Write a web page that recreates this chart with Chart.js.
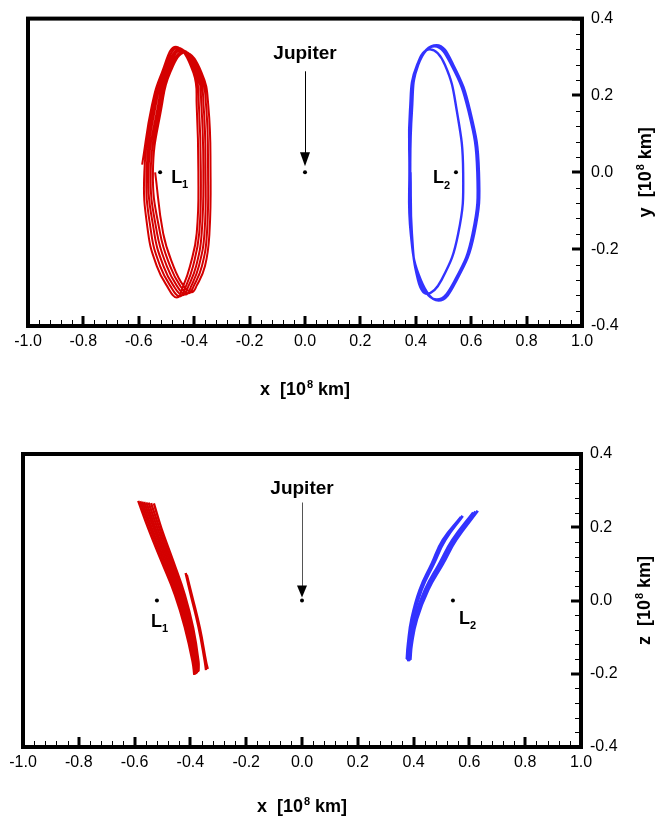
<!DOCTYPE html>
<html>
<head>
<meta charset="utf-8">
<script src="https://cdn.jsdelivr.net/npm/chart.js@4.4.1/dist/chart.umd.min.js"></script>
<style>
  html, body { margin: 0; padding: 0; background: #fff; }
  #wrap { position: relative; width: 657px; height: 824px; }
  canvas { position: absolute; left: 0; }
  #xy { top: 0; }
  #xz { top: 412px; }
</style>
</head>
<body>
<div id="wrap">
  <canvas id="xy" width="657" height="412"></canvas>
  <canvas id="xz" width="657" height="412"></canvas>
</div>
<script>
const FONT = '"Liberation Sans", Arial, Helvetica, sans-serif';

// tick labels
const xTicks = [-1.0, -0.8, -0.6, -0.4, -0.2, 0.0, 0.2, 0.4, 0.6, 0.8, 1.0];
const vTicks = [-0.4, -0.2, 0.0, 0.2, 0.4];

// libration points + Jupiter (x position, on the y=0 / z=0 line)
const markXY = [-0.523, 0.545, 0.0];
const markXZ = [-0.520, 0.541, 0.0];
const markNames = ["L1", "L2", "Jupiter"];

// L1 orbit (red), xy plane, six revolutions drifting to the right
const l1X = [
  -0.588, -0.553, -0.517, -0.466, -0.403, -0.391, -0.385, -0.391, -0.415, -0.439, -0.463, -0.499, -0.535, -0.566,
  -0.580, -0.546, -0.511, -0.459, -0.397, -0.383, -0.376, -0.382, -0.404, -0.429, -0.452, -0.487, -0.523, -0.555,
  -0.572, -0.539, -0.505, -0.452, -0.391, -0.374, -0.367, -0.373, -0.393, -0.420, -0.441, -0.475, -0.511, -0.544,
  -0.565, -0.531, -0.499, -0.446, -0.385, -0.366, -0.359, -0.363, -0.383, -0.410, -0.431, -0.463, -0.499, -0.534,
  -0.557, -0.524, -0.493, -0.439, -0.379, -0.357, -0.350, -0.354, -0.372, -0.401, -0.420, -0.451, -0.487, -0.523,
  -0.549, -0.517, -0.487, -0.432, -0.373, -0.349, -0.341, -0.345, -0.361, -0.391, -0.409, -0.439, -0.475, -0.512,
  -0.541
];
const l1Y = [
  0.020, 0.173, 0.259, 0.327, 0.259, 0.173, 0.000, -0.159, -0.244, -0.295, -0.326, -0.295, -0.244, -0.159,
  0.000, 0.173, 0.259, 0.324, 0.259, 0.173, 0.000, -0.159, -0.244, -0.295, -0.323, -0.295, -0.244, -0.159,
  0.000, 0.173, 0.259, 0.321, 0.259, 0.173, 0.000, -0.159, -0.244, -0.295, -0.320, -0.295, -0.244, -0.159,
  0.000, 0.173, 0.259, 0.318, 0.259, 0.173, 0.000, -0.159, -0.244, -0.295, -0.318, -0.295, -0.244, -0.159,
  0.000, 0.173, 0.259, 0.315, 0.259, 0.173, 0.000, -0.159, -0.244, -0.295, -0.315, -0.295, -0.244, -0.159,
  0.000, 0.173, 0.259, 0.312, 0.259, 0.173, 0.000, -0.159, -0.244, -0.295, -0.312, -0.295, -0.244, -0.159,
  0.000
];

// L2 orbit (blue), xy plane
const l2X = [
  0.377, 0.379, 0.405, 0.475, 0.535, 0.596, 0.628, 0.611, 0.548, 0.482, 0.418, 0.382,
  0.377, 0.383, 0.409, 0.468, 0.528, 0.590, 0.622, 0.605, 0.542, 0.476, 0.414, 0.385,
  0.380, 0.386, 0.406, 0.451, 0.505, 0.548, 0.571, 0.553, 0.493, 0.440, 0.408, 0.386,
  0.381
];
const l2Y = [
  0.000, 0.160, 0.280, 0.331, 0.280, 0.160, 0.000, -0.160, -0.280, -0.334, -0.280, -0.160,
  0.000, 0.160, 0.280, 0.328, 0.280, 0.160, 0.000, -0.160, -0.280, -0.331, -0.280, -0.160,
  0.000, 0.160, 0.280, 0.320, 0.280, 0.160, 0.000, -0.160, -0.280, -0.316, -0.280, -0.160,
  0.000
];

// xz plane: each orbit is a thin band, drawn as strands
const l1StrandX = [
  [-0.587, -0.551, -0.503, -0.455, -0.419, -0.392, -0.386],
  [-0.580, -0.544, -0.497, -0.450, -0.414, -0.389, -0.383],
  [-0.573, -0.538, -0.491, -0.445, -0.410, -0.386, -0.381],
  [-0.566, -0.531, -0.485, -0.440, -0.406, -0.383, -0.379],
  [-0.558, -0.525, -0.479, -0.435, -0.402, -0.380, -0.377],
  [-0.550, -0.518, -0.473, -0.430, -0.398, -0.377, -0.375],
  [-0.541, -0.511, -0.467, -0.425, -0.394, -0.374, -0.373],
  [-0.531, -0.504, -0.461, -0.420, -0.390, -0.371, -0.371],
  [-0.413, -0.395, -0.366, -0.344, -0.338],
  [-0.417, -0.400, -0.371, -0.349, -0.344]
];
const l1StrandZ = [
  [0.272, 0.197, 0.106, 0.015, -0.076, -0.167, -0.203],
  [0.271, 0.197, 0.106, 0.015, -0.076, -0.167, -0.202],
  [0.270, 0.197, 0.106, 0.015, -0.076, -0.167, -0.201],
  [0.269, 0.197, 0.106, 0.015, -0.076, -0.167, -0.200],
  [0.268, 0.197, 0.106, 0.015, -0.076, -0.167, -0.198],
  [0.267, 0.197, 0.106, 0.015, -0.076, -0.167, -0.196],
  [0.266, 0.197, 0.106, 0.015, -0.076, -0.167, -0.195],
  [0.265, 0.197, 0.106, 0.015, -0.076, -0.167, -0.193],
  [0.070, 0.015, -0.076, -0.167, -0.187],
  [0.075, 0.020, -0.072, -0.163, -0.190]
];
const l2StrandX = [
  [0.630, 0.552, 0.505, 0.452, 0.412, 0.393, 0.388],
  [0.622, 0.545, 0.498, 0.446, 0.407, 0.389, 0.384],
  [0.614, 0.539, 0.492, 0.441, 0.403, 0.386, 0.381],
  [0.576, 0.513, 0.472, 0.428, 0.397, 0.383, 0.378],
  [0.570, 0.505, 0.465, 0.422, 0.393, 0.380, 0.376]
];
const l2StrandZ = [
  [0.245, 0.165, 0.100, 0.029, -0.050, -0.120, -0.162],
  [0.243, 0.165, 0.100, 0.029, -0.050, -0.120, -0.165],
  [0.240, 0.165, 0.100, 0.029, -0.050, -0.120, -0.166],
  [0.231, 0.165, 0.100, 0.029, -0.050, -0.120, -0.162],
  [0.228, 0.165, 0.100, 0.029, -0.050, -0.120, -0.160]
];

const RED = "#d40000";
const BLUE = "#3333ff";

// per-panel layout bits, keyed by canvas id
const panel = {
  xy: { v: "y", padLeft: 28, padTop: 13, xHeight: 86, yWidth: 75, xTitleDy: 69, yTitleX: 651,
        L1: [11, 10.5, 15.5], L2: [-23, 10.5, 16.5], jup: [-113, -101, -19, -6] },
  xz: { v: "z", padLeft: 23, padTop: 42, xHeight: 77, yWidth: 76, xTitleDy: 65, yTitleX: 650,
        L1: [-6, 26, 31], L2: [6, 23.5, 28], jup: [-107, -98, -14, -3] }
};

function fmt(v) {
  if (Math.abs(v) < 1e-9) return "0.0";
  return v.toFixed(1);
}

// "x  [10^8 km]" with a raised 8, centred on cx
function unitTitle(ctx, letter, cx, base) {
  const a = letter + "  [10", b = "8", c = " km]";
  ctx.font = "bold 18px " + FONT;
  const wa = ctx.measureText(a).width, wc = ctx.measureText(c).width;
  ctx.font = "bold 11px " + FONT;
  const wb = ctx.measureText(b).width + 1;
  let x = cx - (wa + wb + wc) / 2;
  ctx.textAlign = "left";
  ctx.textBaseline = "alphabetic";
  ctx.font = "bold 18px " + FONT;
  ctx.fillText(a, x, base);
  ctx.font = "bold 11px " + FONT;
  ctx.fillText(b, x + wa + 1, base - 7);
  ctx.font = "bold 18px " + FONT;
  ctx.fillText(c, x + wa + wb, base);
}

function pointLabel(ctx, main, small, x, y, ySmall) {
  ctx.textAlign = "left";
  ctx.textBaseline = "alphabetic";
  ctx.font = "bold 18px " + FONT;
  ctx.fillText(main, x, y);
  const w = ctx.measureText(main).width;
  ctx.font = "bold 11px " + FONT;
  ctx.fillText(small, x + w, ySmall);
}

const frame = {
  id: "frame",
  afterDraw(chart) {
    const p = panel[chart.canvas.id];
    const ctx = chart.ctx;
    const a = chart.chartArea;
    const xs = chart.scales.x, ys = chart.scales.y;
    ctx.save();
    ctx.strokeStyle = "#000";
    ctx.fillStyle = "#000";

    // inward ticks, bottom and right only
    for (let i = 0; i <= 50; i++) {
      const major = i % 5 === 0;
      const px = Math.round(xs.getPixelForValue(-1 + i * 0.04));
      ctx.lineWidth = major ? 3 : 1;
      ctx.beginPath();
      ctx.moveTo(px + (major ? 0 : 0.5), a.bottom);
      ctx.lineTo(px + (major ? 0 : 0.5), a.bottom - (major ? 10 : 6));
      ctx.stroke();
    }
    for (let i = 0; i <= 20; i++) {
      const major = i % 5 === 0;
      const py = Math.round(ys.getPixelForValue(-0.4 + i * 0.04));
      ctx.lineWidth = major ? 3 : 1;
      ctx.beginPath();
      ctx.moveTo(a.right, py + (major ? 0 : 0.5));
      ctx.lineTo(a.right - (major ? 10 : 6), py + (major ? 0 : 0.5));
      ctx.stroke();
    }

    ctx.lineWidth = 4;
    ctx.strokeRect(a.left, a.top, a.right - a.left, a.bottom - a.top);

    // axis titles
    unitTitle(ctx, "x", (a.left + a.right) / 2, a.bottom + p.xTitleDy);
    ctx.save();
    ctx.translate(p.yTitleX, (a.top + a.bottom) / 2);
    ctx.rotate(-Math.PI / 2);
    unitTitle(ctx, p.v, 0, 0);
    ctx.restore();

    // point labels, placed off the marker pixels
    const pts = chart.getDatasetMeta(0).data;
    const l1 = pts[0], l2 = pts[1], jp = pts[2];
    pointLabel(ctx, "L", "1", l1.x + p.L1[0], l1.y + p.L1[1], l1.y + p.L1[2]);
    pointLabel(ctx, "L", "2", l2.x + p.L2[0], l2.y + p.L2[1], l2.y + p.L2[2]);

    ctx.textAlign = "center";
    ctx.font = "bold 19px " + FONT;
    ctx.fillText(markNames[2], jp.x, jp.y + p.jup[0]);
    ctx.lineWidth = 1;
    ctx.strokeStyle = p.v === "y" ? "#000" : "#555";
    ctx.beginPath();
    ctx.moveTo(Math.round(jp.x) + 0.5, jp.y + p.jup[1]);
    ctx.lineTo(Math.round(jp.x) + 0.5, jp.y + p.jup[2]);
    ctx.stroke();
    ctx.beginPath();
    ctx.moveTo(jp.x - 5, jp.y + p.jup[2] - 1);
    ctx.lineTo(jp.x + 5, jp.y + p.jup[2] - 1);
    ctx.lineTo(jp.x, jp.y + p.jup[3]);
    ctx.closePath();
    ctx.fill();
    ctx.restore();
  }
};

function pairs(xs, ys) {
  return xs.map((x, i) => ({ x: x, y: ys[i] }));
}

function line(data, color, width) {
  return {
    data: data,
    showLine: true,
    borderColor: color,
    borderWidth: width,
    pointRadius: 0,
    tension: 0.45
  };
}

function build(id, datasets, marks) {
  const p = panel[id];
  const markers = {
    data: marks.map(x => ({ x: x, y: 0 })),
    pointRadius: 2,
    pointBackgroundColor: "#000",
    pointBorderWidth: 0,
    showLine: false
  };
  return new Chart(document.getElementById(id), {
    type: "scatter",
    data: { datasets: [markers].concat(datasets) },
    options: {
      responsive: false,
      animation: false,
      devicePixelRatio: 1,
      layout: { padding: { left: p.padLeft, top: p.padTop, right: 0, bottom: 0 } },
      plugins: { legend: { display: false }, tooltip: { enabled: false } },
      scales: {
        x: {
          type: "linear", position: "bottom",
          min: xTicks[0], max: xTicks[xTicks.length - 1],
          afterFit: s => { s.height = p.xHeight; },
          grid: { drawOnChartArea: false, drawTicks: false },
          border: { display: false },
          ticks: {
            stepSize: 0.2, autoSkip: false, maxRotation: 0, padding: 6,
            color: "#000", font: { family: FONT, size: 16 }, callback: fmt
          }
        },
        y: {
          type: "linear", position: "right",
          min: vTicks[0], max: vTicks[vTicks.length - 1],
          afterFit: s => { s.width = p.yWidth; },
          grid: { drawOnChartArea: false, drawTicks: false },
          border: { display: false },
          ticks: {
            stepSize: 0.2, autoSkip: false, padding: 9,
            color: "#000", font: { family: FONT, size: 16 }, callback: fmt
          }
        }
      }
    },
    plugins: [frame]
  });
}

build("xy", [
  line(pairs(l1X, l1Y), RED, 2.0),
  line(pairs(l2X, l2Y), BLUE, 2.4)
], markXY);

build("xz",
  l1StrandX.map((xs, k) => line(pairs(xs, l1StrandZ[k]), RED, 2.4))
    .concat(l2StrandX.map((xs, k) => line(pairs(xs, l2StrandZ[k]), BLUE, 2.8))),
  markXZ);
</script>
</body>
</html>
